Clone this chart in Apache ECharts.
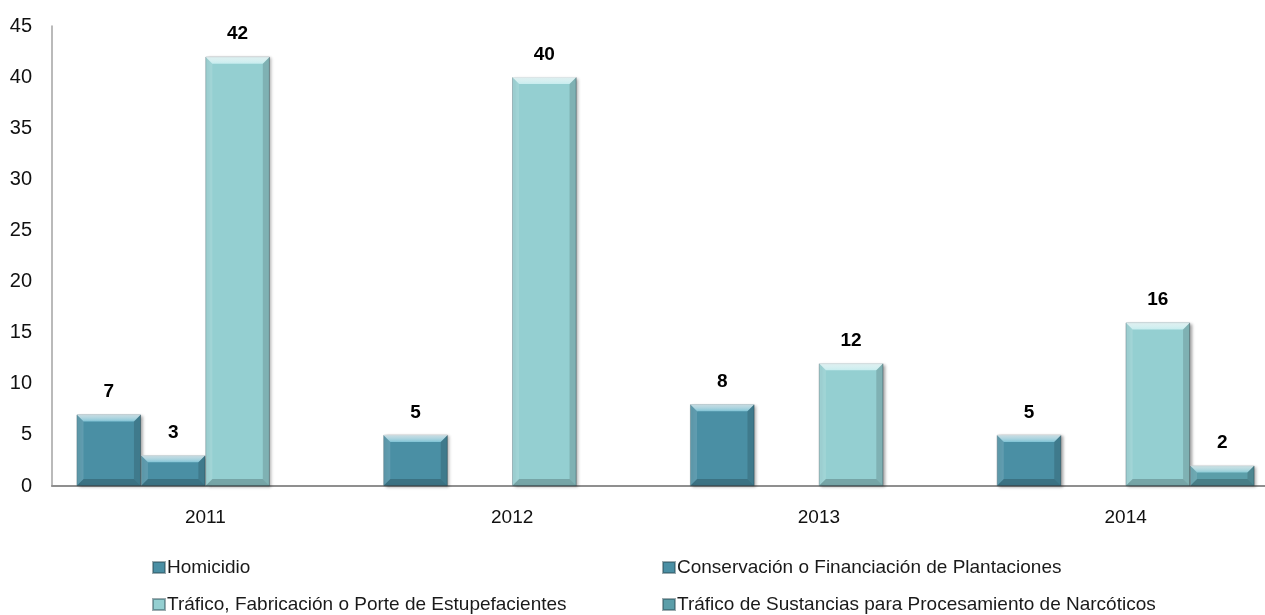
<!DOCTYPE html>
<html>
<head>
<meta charset="utf-8">
<script src="https://cdn.jsdelivr.net/npm/echarts@6/dist/echarts.min.js"></script>
<style>
  html, body { margin: 0; padding: 0; background: #ffffff; }
  #chart { width: 1265px; height: 615px; }
</style>
</head>
<body>
<div id="chart"></div>
<script>
// Years on the category axis
const years = ['2011', '2012', '2013', '2014'];

// Number of cases per offence and year (null = no cases recorded)
const homicidio = [7, 5, 8, 5];
const conservacion = [3, null, null, null];
const traficoEstupefacientes = [42, 40, 12, 16];
const traficoSustancias = [null, null, null, 2];

const seriesNames = [
  'Homicidio',
  'Conservación o Financiación de Plantaciones',
  'Tráfico, Fabricación o Porte de Estupefacientes',
  'Tráfico de Sustancias para Procesamiento de Narcóticos'
];

// Value-axis ticks
const yTicks = [0, 5, 10, 15, 20, 25, 30, 35, 40, 45];

const seriesValues = [homicidio, conservacion, traficoEstupefacientes, traficoSustancias];
const colors = ['#4a8fa4', '#4a8fa4', '#94cfd1', '#5b9ea9'];
const bevelTop = ['#80c3d5', '#80c3d5', '#c6ecee', '#8ccbd6'];
const CATEGORY_GAP = 0.16;
const FONT = '"Liberation Sans", Arial, sans-serif';

const chart = echarts.init(document.getElementById('chart'), null, { renderer: 'canvas' });

// Bevelled edges drawn on top of each bar, positioned through the axis scales
function bevelRenderer(seriesIdx) {
  return function (params, api) {
    const cat = api.value(0);
    const val = api.value(1);
    const base = api.coord([cat, 0]);
    const top = api.coord([cat, val]);
    const band = api.size([1, 0])[0];
    const barW = band * (1 - CATEGORY_GAP) / seriesValues.length;
    const x0 = base[0] - band * (1 - CATEGORY_GAP) / 2 + seriesIdx * barW;
    const x1 = x0 + barW;
    const y0 = top[1];
    const y1 = base[1];
    const h = y1 - y0;
    const b = Math.min(7, h / 2.4, barW / 2.4);
    const poly = (pts, fill) => ({ type: 'polygon', shape: { points: pts }, style: { fill: fill }, silent: true });
    return {
      type: 'group',
      children: [
        poly([[x0, y0], [x1, y0], [x1 - b, y0 + b], [x0 + b, y0 + b]], new echarts.graphic.LinearGradient(0, 0, 0, 1, [
          { offset: 0, color: 'rgba(255,255,255,0.7)' },
          { offset: 1, color: bevelTop[seriesIdx] }
        ])),
        poly([[x0, y0], [x0 + b, y0 + b], [x0 + b, y1 - b], [x0, y1]], 'rgba(255,255,255,0.12)'),
        poly([[x1, y0], [x1 - b, y0 + b], [x1 - b, y1 - b], [x1, y1]], 'rgba(0,0,0,0.14)'),
        poly([[x0, y1], [x0 + b, y1 - b], [x1 - b, y1 - b], [x1, y1]], 'rgba(0,0,0,0.20)')
      ]
    };
  };
}

const barSeries = seriesValues.map((vals, i) => ({
  type: 'bar',
  name: seriesNames[i],
  data: vals,
  barGap: '0%',
  barCategoryGap: (CATEGORY_GAP * 100) + '%',
  itemStyle: {
    color: colors[i],
    borderColor: 'rgba(40,70,80,0.45)',
    borderWidth: 0.8,
    shadowColor: 'rgba(0,0,0,0.35)',
    shadowBlur: 3,
    shadowOffsetX: 2,
    shadowOffsetY: 1
  },
  label: {
    show: true,
    position: 'top',
    distance: 13,
    fontFamily: FONT,
    fontWeight: 'bold',
    fontSize: 19,
    color: '#000'
  },
  z: 2
}));

const bevelSeries = seriesValues.map((vals, i) => ({
  type: 'custom',
  renderItem: bevelRenderer(i),
  data: vals.map((v, k) => (v == null ? null : [k, v])).filter(d => d !== null),
  encode: { x: 0, y: 1 },
  silent: true,
  z: 3
}));

// Two-column legend, one block per series
const legendPos = [
  { left: 147, top: 553 },
  { left: 657, top: 553 },
  { left: 147, top: 590 },
  { left: 657, top: 590 }
];
const legends = seriesNames.map((n, i) => ({
  data: [n],
  left: legendPos[i].left,
  top: legendPos[i].top,
  icon: 'rect',
  itemWidth: 12,
  itemHeight: 11,
  itemGap: 0,
  textStyle: { fontFamily: FONT, fontSize: 19, color: '#1a1a1a', padding: [0, 0, 0, -3] },
  selectedMode: false
}));

chart.setOption({
  animation: false,
  backgroundColor: '#ffffff',
  legend: legends,
  grid: {
    left: 52,
    top: 26,
    height: 460,
    width: 1227,
    outerBoundsMode: 'none',
    containLabel: false
  },
  xAxis: {
    type: 'category',
    data: years,
    axisTick: { show: false },
    axisLine: { lineStyle: { color: '#8f8f8f', width: 2 } },
    axisLabel: { fontFamily: FONT, fontSize: 19, color: '#111', margin: 22 }
  },
  yAxis: {
    type: 'value',
    min: yTicks[0],
    max: yTicks[yTicks.length - 1],
    interval: yTicks[1] - yTicks[0],
    splitLine: { show: false },
    axisTick: { show: false },
    axisLine: { show: true, lineStyle: { color: '#a3a3a3', width: 1.5 } },
    axisLabel: { fontFamily: FONT, fontSize: 20, color: '#111', margin: 20 }
  },
  series: barSeries.concat(bevelSeries)
});
</script>
</body>
</html>
